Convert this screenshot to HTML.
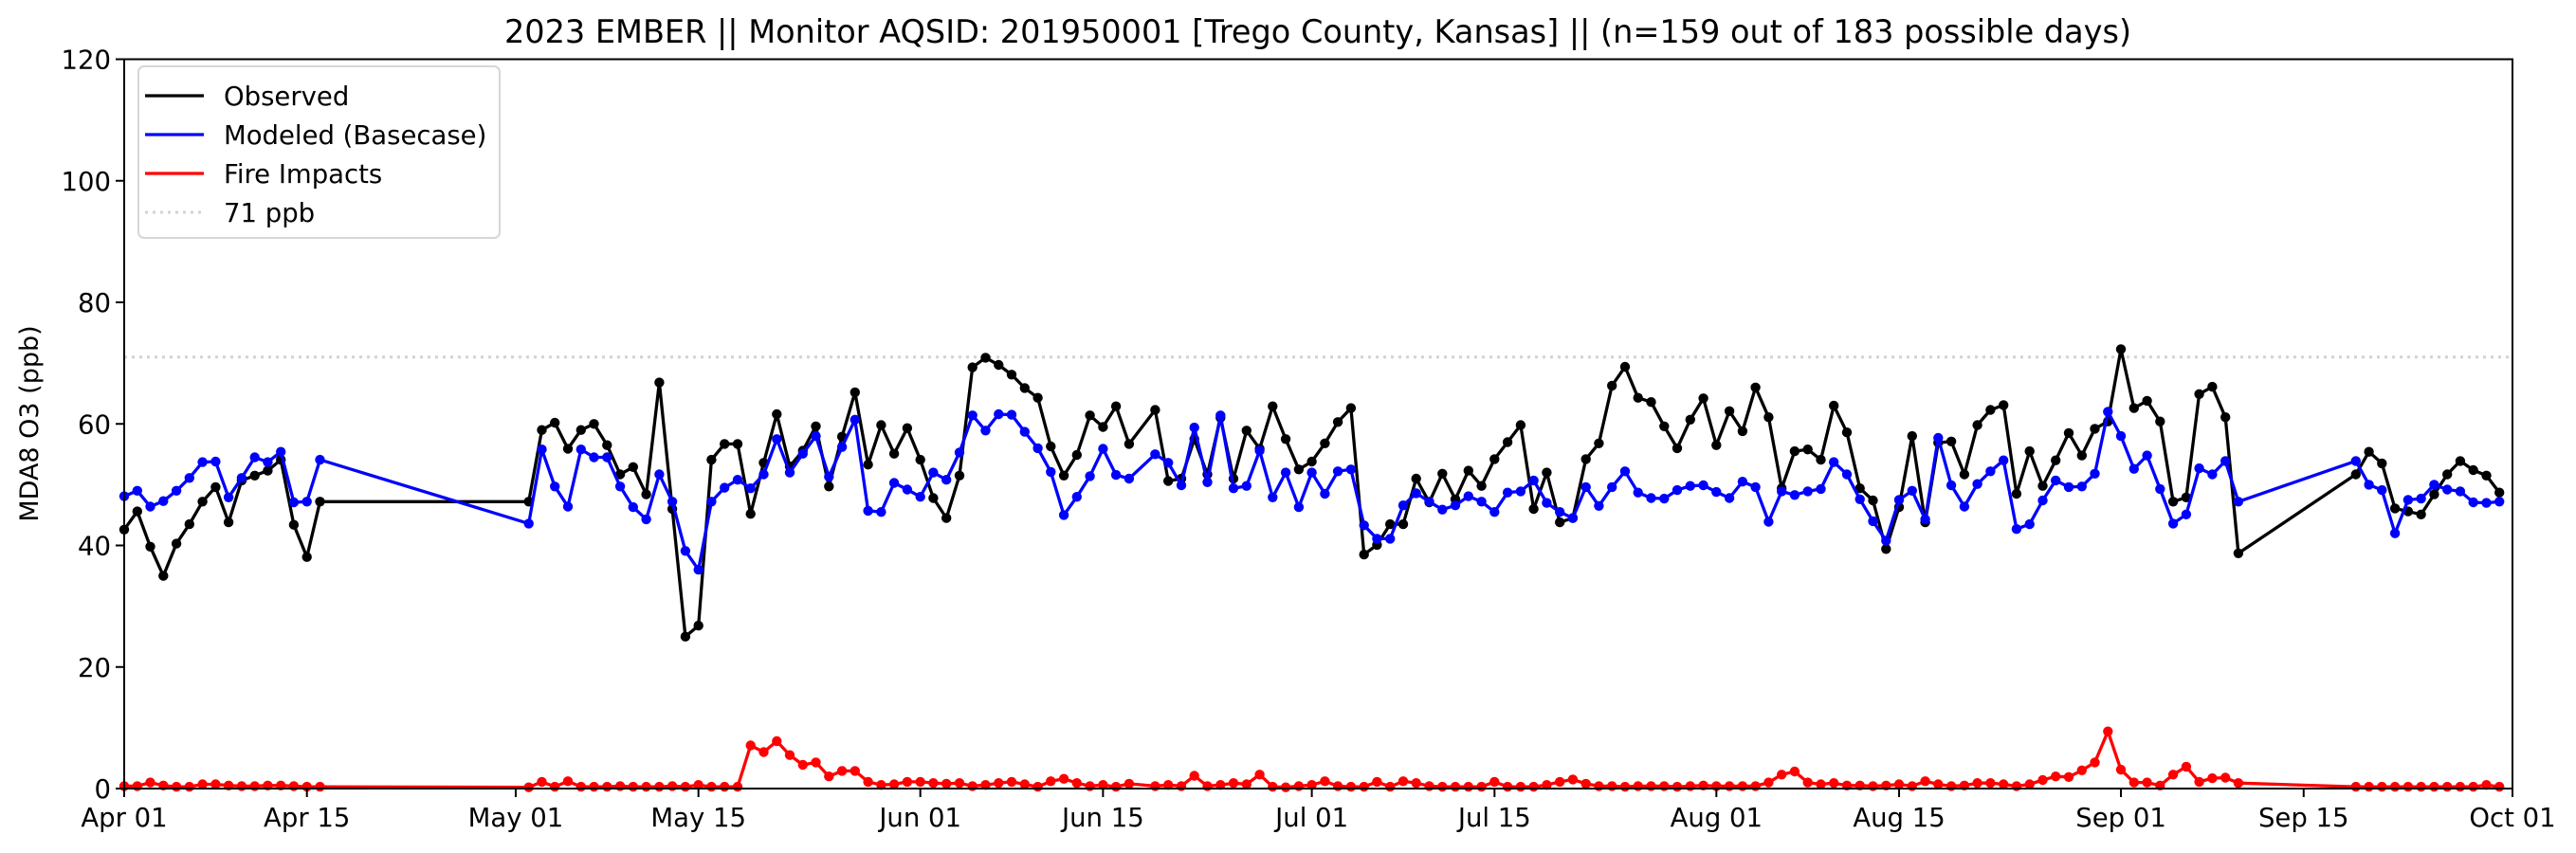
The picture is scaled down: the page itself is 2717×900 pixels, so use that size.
<!DOCTYPE html>
<html><head><meta charset="utf-8"><style>
html,body{margin:0;padding:0;background:#fff;}
svg{display:block;font-family:"DejaVu Sans","Liberation Sans",sans-serif;}
</style></head><body>
<svg id="chart" width="2717" height="900" viewBox="0 0 2717 900">
<rect x="0" y="0" width="2717" height="900" fill="#fff"/>
<text x="1390" y="45" font-size="33.5" text-anchor="middle" fill="#000">2023 EMBER || Monitor AQSID: 201950001 [Trego County, Kansas] || (n=159 out of 183 possible days)</text>
<text transform="translate(40,447) rotate(-90)" font-size="27" text-anchor="middle" fill="#000">MDA8 O3 (ppb)</text>
<g id="grid"></g><g id="series"></g><g id="axes"></g>
<g>
<rect x="146" y="70" width="381" height="181" rx="6" fill="#fff" fill-opacity="0.85" stroke="#d6d6d6" stroke-width="2"/>
<g><line x1="153" y1="101" x2="215" y2="101" stroke="#000" stroke-width="3.3"/><text x="236" y="111" font-size="27.5">Observed</text></g>
<g><line x1="153" y1="142" x2="215" y2="142" stroke="#0000ff" stroke-width="3.3"/><text x="236" y="152" font-size="27.5">Modeled (Basecase)</text></g>
<g><line x1="153" y1="183" x2="215" y2="183" stroke="#ff0000" stroke-width="3.3"/><text x="236" y="193" font-size="27.5">Fire Impacts</text></g>
<g><line x1="153" y1="224" x2="215" y2="224" stroke="#d3d3d3" stroke-width="3" stroke-dasharray="3,5"/><text x="236" y="234" font-size="27.5">71 ppb</text></g>
</g>
</svg>
<script>
const N=null;
const observed=[42.6,45.6,39.8,35.0,40.3,43.5,47.2,49.6,43.8,50.7,51.5,52.3,54.1,43.4,38.1,47.2,
N,N,N,N,N,N,N,N,N,N,N,N,N,N,N,
47.2,59.0,60.2,55.9,59.0,60.0,56.5,51.7,52.9,48.4,66.8,46,25.0,26.8,54.1,56.7,56.7,45.2,53.6,61.6,53.0,55.6,59.6,49.7,57.9,65.2,53.3,59.8,55.1,59.3,54.1,
47.8,44.5,51.5,69.3,70.9,69.7,68.1,65.9,64.3,56.3,51.5,54.9,61.4,59.5,62.9,56.7,N,
62.3,50.6,51.0,57.5,51.7,61,51.0,58.9,55.9,62.9,57.5,52.5,53.8,
56.8,60.3,62.6,38.5,40.1,43.5,43.5,51.0,47.1,51.8,47.6,52.3,49.8,54.2,57.0,59.8,46.0,52.0,43.8,44.5,54.2,56.8,66.3,69.4,64.3,63.6,59.6,56.0,60.7,
64.2,56.5,62.1,58.8,66.0,61.1,49.4,55.5,55.8,54.1,63.0,58.6,49.4,47.4,39.4,46.3,58.0,43.8,56.9,57.1,51.7,59.8,62.3,63.1,48.5,55.5,49.8,54.0,58.5,54.8,
59.2,60.4,72.3,62.6,63.8,60.4,47.2,47.9,64.9,66.1,61.1,38.7,
N,N,N,N,N,N,N,N,
51.7,55.4,53.5,46.1,45.6,45.1,48.4,51.7,53.9,52.4,51.5,48.7];
const modeled=[48.1,49.0,46.4,47.3,49.0,51.1,53.7,53.8,47.9,51.1,54.5,53.7,55.4,47.1,47.2,54.1,
N,N,N,N,N,N,N,N,N,N,N,N,N,N,N,
43.6,55.8,49.7,46.4,55.8,54.5,54.5,49.7,46.3,44.3,51.7,47.2,39.1,36.0,47.2,49.5,50.8,49.4,51.7,57.5,52.0,55.1,58.0,51.3,56.2,60.7,45.7,45.5,50.3,49.2,48.0,
52.0,50.8,55.3,61.4,58.9,61.6,61.5,58.7,56.0,52.1,45.0,48.0,51.4,55.9,51.6,51.0,N,
55.0,53.6,49.9,59.4,50.4,61.4,49.4,49.8,55.6,47.9,52.0,46.3,52.0,
48.5,52.2,52.5,43.3,41.1,41.1,46.6,48.6,47.2,45.9,46.6,48.1,47.2,45.5,48.7,48.9,50.7,47.0,45.5,44.5,49.6,46.5,49.6,52.2,48.7,47.8,47.7,49.1,49.8,
49.9,48.8,47.8,50.5,49.6,43.9,48.9,48.3,48.9,49.3,53.7,51.7,47.6,44.0,40.8,47.5,49.0,44.3,57.7,49.9,46.4,50.1,52.2,54.0,42.7,43.5,47.4,50.7,49.6,49.7,
51.8,62.0,58.0,52.6,54.8,49.3,43.6,45.1,52.7,51.7,53.9,47.2,
N,N,N,N,N,N,N,N,
53.9,50.0,49.1,42.0,47.5,47.7,50.0,49.2,48.9,47.1,47.0,47.2];
const fire=[.4,.4,1.0,.5,.3,.3,.7,.7,.5,.4,.4,.5,.5,.4,.3,.3,
N,N,N,N,N,N,N,N,N,N,N,N,N,N,N,
.2,1.1,.3,1.2,.3,.3,.3,.4,.3,.3,.3,.4,.3,.6,.3,.3,.3,7.1,6.0,7.8,5.5,3.9,4.3,2.0,2.9,2.9,1.1,.6,.7,1.1,1.1,
.9,.8,.9,.4,.6,.9,1.1,.7,.3,1.2,1.6,.9,.4,.6,.3,.8,N,
.4,.6,.4,2.1,.4,.6,.9,.7,2.3,.3,.2,.4,.6,
1.2,.4,.3,.3,1.1,.3,1.2,.9,.4,.3,.3,.3,.3,1.1,.3,.3,.3,.6,1.1,1.5,.8,.4,.4,.3,.4,.4,.4,.3,.4,
.5,.4,.4,.4,.4,1.0,2.3,2.8,1.0,.7,.9,.5,.5,.4,.5,.7,.4,1.2,.7,.4,.5,.9,.9,.7,.4,.7,1.4,2.0,1.9,3.0,
4.3,9.4,3.1,1.0,1.0,.5,2.3,3.6,1.1,1.7,1.8,.9,
N,N,N,N,N,N,N,N,
.3,.3,.3,.3,.3,.3,.3,.3,.3,.3,.6,.3];
const yTicks=[0,20,40,60,80,100,120];
const xTickLabels=["Apr 01","Apr 15","May 01","May 15","Jun 01","Jun 15","Jul 01","Jul 15","Aug 01","Aug 15","Sep 01","Sep 15","Oct 01"];
const xTickDays=[0,14,30,44,61,75,91,105,122,136,153,167,183];
const threshold=71;

const L=131,R=2650,T=62.5,B=832,NDAYS=183,YMAX=120;
function xs(d){return L+(R-L)*d/NDAYS;}
function ys(v){return B-(B-T)*v/YMAX;}
const NS="http://www.w3.org/2000/svg";
function mk(tag,attrs,parent){const e=document.createElementNS(NS,tag);for(const k in attrs)e.setAttribute(k,attrs[k]);parent.appendChild(e);return e;}
const grid=document.getElementById('grid'),ser=document.getElementById('series'),ax=document.getElementById('axes');

const th=mk('line',{x1:L,x2:R,y1:ys(threshold),y2:ys(threshold),stroke:'#d3d3d3','stroke-width':3,'stroke-dasharray':'3,5'},grid);



function drawSeries(vals,color,name){
  const g=mk('g',{},ser);
  
  
  let pts=[];
  vals.forEach((v,i)=>{if(v!==null)pts.push([xs(i),ys(v)]);});
  const pl=mk('polyline',{points:pts.map(p=>p[0].toFixed(1)+','+p[1].toFixed(1)).join(' '),fill:'none',stroke:color,'stroke-width':3.3,'stroke-linejoin':'round'},g);
  
  
  vals.forEach((v,i)=>{
    if(v===null)return;
    const c=mk('circle',{cx:xs(i).toFixed(1),cy:ys(v).toFixed(1),r:5.2,fill:color},g);
    
    
  });
}
drawSeries(observed,'#000000','observed');
drawSeries(modeled,'#0000ff','modeled');
drawSeries(fire,'#ff0000','fire-impacts');

const frame=mk('rect',{x:L,y:T,width:R-L,height:B-T,fill:'none',stroke:'#000','stroke-width':2},ax);


yTicks.forEach(v=>{
  const t=mk('line',{x1:L-9,x2:L,y1:ys(v),y2:ys(v),stroke:'#000','stroke-width':2},ax);
  
  
  const tx=mk('text',{x:L-14,y:ys(v)+10,'font-size':27.5,'text-anchor':'end',fill:'#000'},ax);
  tx.textContent=v;
  
  
});
xTickDays.forEach((d,i)=>{
  const t=mk('line',{x1:xs(d),x2:xs(d),y1:B,y2:B+9,stroke:'#000','stroke-width':2},ax);
  
  
  const tx=mk('text',{x:xs(d),y:B+40,'font-size':27.5,'text-anchor':'middle',fill:'#000'},ax);
  tx.textContent=xTickLabels[i];
  
  
});
</script>
</body></html>
